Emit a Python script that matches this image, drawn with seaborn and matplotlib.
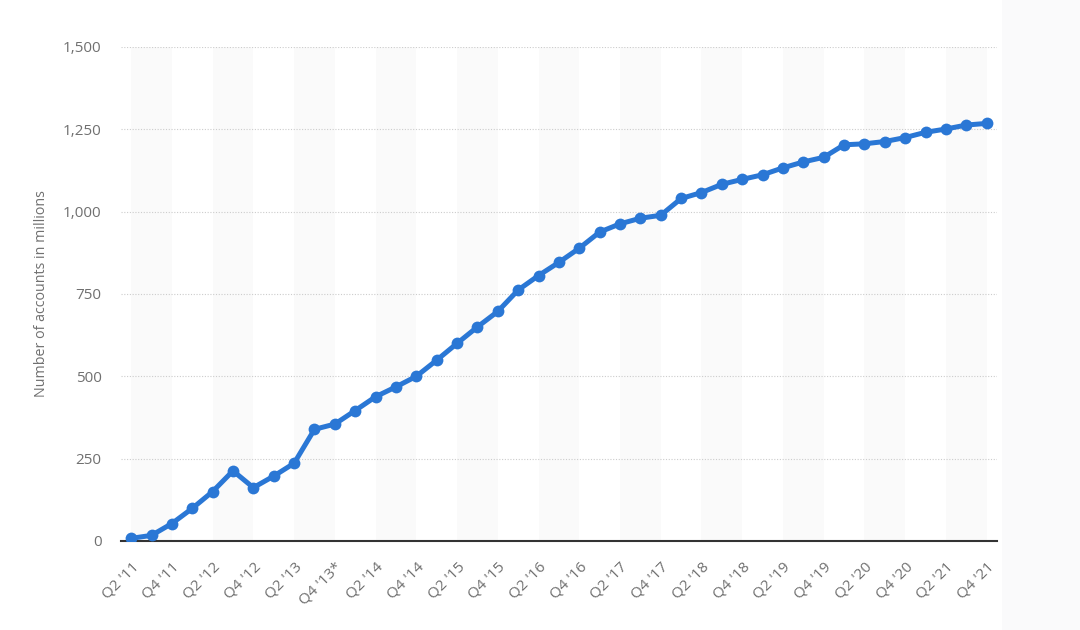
import pandas as pd
import numpy as np
import seaborn as sns
import matplotlib.pyplot as plt
from matplotlib.patches import Rectangle

quarters = ["Q2 '11", "Q3 '11", "Q4 '11",
            "Q1 '12", "Q2 '12", "Q3 '12", "Q4 '12",
            "Q1 '13", "Q2 '13", "Q3 '13", "Q4 '13*",
            "Q1 '14", "Q2 '14", "Q3 '14", "Q4 '14",
            "Q1 '15", "Q2 '15", "Q3 '15", "Q4 '15",
            "Q1 '16", "Q2 '16", "Q3 '16", "Q4 '16",
            "Q1 '17", "Q2 '17", "Q3 '17", "Q4 '17",
            "Q1 '18", "Q2 '18", "Q3 '18", "Q4 '18",
            "Q1 '19", "Q2 '19", "Q3 '19", "Q4 '19",
            "Q1 '20", "Q2 '20", "Q3 '20", "Q4 '20",
            "Q1 '21", "Q2 '21", "Q3 '21", "Q4 '21"]
accounts = [8, 17, 53,
            99, 150, 213, 162,
            197, 236, 339, 355,
            396, 438, 468, 500,
            549, 600, 650, 697,
            762, 806, 846, 889,
            938, 963, 980, 989,
            1040, 1058, 1083, 1098,
            1112, 1133, 1151, 1165,
            1203, 1206, 1213, 1225,
            1241, 1251, 1263, 1268]
y_ticks = [0, 250, 500, 750, 1000, 1250, 1500]

df = pd.DataFrame({'quarter': quarters, 'accounts': accounts})
df['pos'] = np.arange(len(df))

sns.set_style('white')
plt.rcParams['font.family'] = ['Open Sans', 'DejaVu Sans']

fig = plt.figure(figsize=(10.8, 6.3), dpi=100)
# faint grey strip on the right edge of the screenshot
fig.patches.append(Rectangle((0.928, 0), 0.072, 1, transform=fig.transFigure,
                             facecolor='#fafafb', edgecolor='none', zorder=0))
ax = fig.add_axes([0.112, 0.1413, 0.811, 0.7841])
ax.set_facecolor('none')

# alternating column bands between labelled ticks
for i in range(0, len(df) - 1, 4):
    ax.axvspan(i, i + 2, color='#fafafa', lw=0, zorder=0)

for v in y_ticks[1:]:
    ax.axhline(v, color='#cccccc', lw=0.8, ls=(0, (1, 1.5)), zorder=1)

sns.lineplot(data=df, x='pos', y='accounts', ax=ax, color='#2a77d5', lw=3.6,
             marker='o', markersize=8.5, markeredgewidth=0, zorder=3)

ax.set_xlim(-0.5, len(df) - 0.5)
ax.set_ylim(0, 1500)
ax.set_yticks(y_ticks)
ax.set_yticklabels([f'{v:,}' for v in y_ticks], color='#707070', fontsize=11)
ax.set_xticks(df['pos'][::2])
ax.set_xticklabels(df['quarter'][::2], rotation=45, ha='right',
                   rotation_mode='anchor', color='#707070', fontsize=11)
ax.tick_params(axis='both', length=0)
ax.tick_params(axis='x', pad=13)
ax.tick_params(axis='y', pad=14)

ax.set_xlabel('')
ax.set_ylabel('Number of accounts in millions', color='#707070', fontsize=10.3, labelpad=10)

for s in ['top', 'right', 'left']:
    ax.spines[s].set_visible(False)
ax.spines['bottom'].set_color('#333333')
ax.spines['bottom'].set_linewidth(1.5)
ax.spines['bottom'].set_zorder(2)

fig.savefig('out.png', dpi=100)
